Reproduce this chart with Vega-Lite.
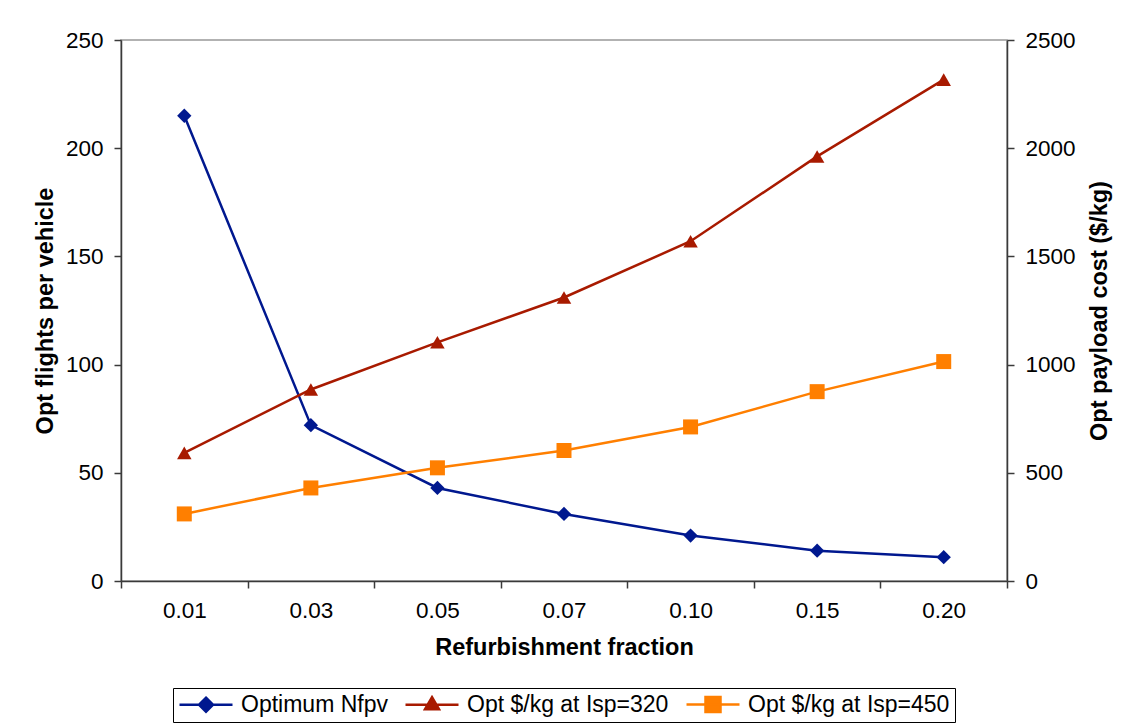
{
  "$schema": "https://vega.github.io/schema/vega-lite/v6.json",
  "autosize": {"type": "none"},
  "width": 886,
  "height": 541,
  "padding": {"left": 121, "top": 40, "right": 121, "bottom": 144},
  "background": "white",
  "datasets": {
    "rows": [
      {"frac": "0.01", "series": "Optimum Nfpv", "value": 215},
      {"frac": "0.03", "series": "Optimum Nfpv", "value": 72},
      {"frac": "0.05", "series": "Optimum Nfpv", "value": 43},
      {"frac": "0.07", "series": "Optimum Nfpv", "value": 31},
      {"frac": "0.10", "series": "Optimum Nfpv", "value": 21},
      {"frac": "0.15", "series": "Optimum Nfpv", "value": 14},
      {"frac": "0.20", "series": "Optimum Nfpv", "value": 11},
      {"frac": "0.01", "series": "Opt $/kg at Isp=320", "value": 592},
      {"frac": "0.03", "series": "Opt $/kg at Isp=320", "value": 885},
      {"frac": "0.05", "series": "Opt $/kg at Isp=320", "value": 1103},
      {"frac": "0.07", "series": "Opt $/kg at Isp=320", "value": 1310},
      {"frac": "0.10", "series": "Opt $/kg at Isp=320", "value": 1570},
      {"frac": "0.15", "series": "Opt $/kg at Isp=320", "value": 1962},
      {"frac": "0.20", "series": "Opt $/kg at Isp=320", "value": 2317},
      {"frac": "0.01", "series": "Opt $/kg at Isp=450", "value": 310},
      {"frac": "0.03", "series": "Opt $/kg at Isp=450", "value": 430},
      {"frac": "0.05", "series": "Opt $/kg at Isp=450", "value": 523},
      {"frac": "0.07", "series": "Opt $/kg at Isp=450", "value": 603},
      {"frac": "0.10", "series": "Opt $/kg at Isp=450", "value": 712},
      {"frac": "0.15", "series": "Opt $/kg at Isp=450", "value": 875},
      {"frac": "0.20", "series": "Opt $/kg at Isp=450", "value": 1014}
    ]
  },
  "data": {"name": "rows"},
  "config": {
    "font": "Liberation Sans",
    "view": {"stroke": "#999999", "strokeWidth": 1.5},
    "axis": {
      "labelFont": "Liberation Sans",
      "labelFontSize": 22.5,
      "labelColor": "black",
      "titleFont": "Liberation Sans",
      "titleFontSize": 23.5,
      "titleFontWeight": "bold",
      "titleColor": "black",
      "domainColor": "#3a3a3a",
      "domainWidth": 1.5,
      "tickColor": "#3a3a3a",
      "tickWidth": 1.5,
      "tickSize": 7,
      "labelPadding": 11,
      "grid": false
    },
    "legend": {
      "labelFont": "Liberation Sans",
      "labelFontSize": 23,
      "labelColor": "black",
      "labelLimit": 400
    }
  },
  "layer": [
    {
      "transform": [{"filter": "datum.series === 'Optimum Nfpv'"}],
      "encoding": {
        "x": {
          "field": "frac", "type": "ordinal", "sort": null,
          "scale": {"type": "band", "paddingInner": 0, "paddingOuter": 0},
          "axis": {"title": "Refurbishment fraction", "labelAngle": 0, "tickBand": "extent", "titlePadding": 14}
        },
        "y": {
          "field": "value", "type": "quantitative",
          "scale": {"domain": [0, 250], "nice": false},
          "axis": {"title": "Opt flights per vehicle", "orient": "left", "values": [0, 50, 100, 150, 200, 250], "titlePadding": 8}
        },
        "color": {
          "field": "series", "type": "nominal",
          "scale": {
            "domain": ["Optimum Nfpv", "Opt $/kg at Isp=320", "Opt $/kg at Isp=450"],
            "range": ["#00188f", "#a81a00", "#ff7f00"]
          },
          "legend": {
            "title": null,
            "orient": "none",
            "legendX": 52,
            "legendY": 648,
            "direction": "horizontal",
            "strokeColor": "black",
            "padding": 5,
            "symbolSize": 400,
            "symbolOffset": 16.5,
            "symbolStrokeWidth": 2.5,
            "columnPadding": 12,
            "labelOffset": 23.5,
            "encode": {
              "symbols": {
                "update": {
                  "shape": {"signal": "datum.value === 'Optimum Nfpv' ? 'M-2.65,0H2.65M0,-0.7L0.7,0L0,0.7L-0.7,0Z' : datum.value === 'Opt $/kg at Isp=320' ? 'M-2.65,0H2.65M0,-0.75L0.7,0.45L-0.7,0.45Z' : 'M-2.65,0H2.65M-0.75,-0.75H0.75V0.75H-0.75Z'"},
                  "fill": {"scale": "color", "field": "value"},
                  "stroke": {"scale": "color", "field": "value"},
                  "fillOpacity": {"value": 1},
                  "opacity": {"value": 1},
                  "strokeWidth": {"value": 2.5}
                }
              }
            }
          }
        }
      },
      "layer": [
        {"mark": {"type": "line", "strokeWidth": 2.5}},
        {
          "mark": {"type": "point", "filled": true, "opacity": 1, "shape": "diamond", "size": 205}
        }
      ]
    },
    {
      "transform": [{"filter": "datum.series !== 'Optimum Nfpv'"}],
      "encoding": {
        "x": {"field": "frac", "type": "ordinal", "sort": null},
        "y": {
          "field": "value", "type": "quantitative",
          "scale": {"domain": [0, 2500], "nice": false},
          "axis": {"title": "Opt payload cost ($/kg)", "orient": "right", "format": "d", "titleAngle": 270, "values": [0, 500, 1000, 1500, 2000, 2500], "titlePadding": 36}
        },
        "color": {"field": "series", "type": "nominal"}
      },
      "layer": [
        {"mark": {"type": "line", "strokeWidth": 2.5}},
        {
          "mark": {"type": "point", "filled": true, "opacity": 1},
          "encoding": {
            "shape": {
              "field": "series", "type": "nominal",
              "scale": {"domain": ["Opt $/kg at Isp=320", "Opt $/kg at Isp=450"], "range": ["triangle-up", "square"]},
              "legend": null
            },
            "size": {
              "field": "series", "type": "nominal",
              "scale": {"domain": ["Opt $/kg at Isp=320", "Opt $/kg at Isp=450"], "range": [210, 225]},
              "legend": null
            }
          }
        }
      ]
    }
  ],
  "resolve": {"scale": {"y": "independent"}}
}
